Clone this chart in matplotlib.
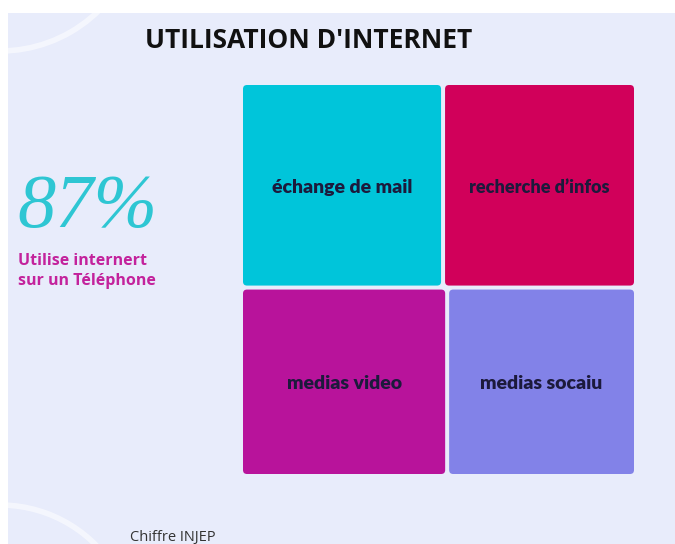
import matplotlib.pyplot as plt
from matplotlib.patches import FancyBboxPatch, Rectangle, Arc

# données du treemap
categories = ["échange de mail", "recherche d’infos", "medias video", "medias socaiu"]
values = [26.6, 25.4, 25.0, 22.9]
colors = ["#00c5da", "#d1005a", "#b8139b", "#8282e8"]
label_sizes = [14, 13, 14, 14]
rows = [[0, 1], [2, 3]]

pourcentage = "87%"
sous_titre = "Utilise internert\nsur un Téléphone"
titre = "UTILISATION D'INTERNET"
source = "Chiffre INJEP"

fig = plt.figure(figsize=(6.75, 5.44), dpi=100)
fig.patch.set_facecolor("white")
ax = fig.add_axes([0, 0, 1, 1])
ax.set_xlim(0, 675)
ax.set_ylim(544, 0)
ax.axis("off")

# fond
ax.add_patch(Rectangle((8, 13), 667, 531, facecolor="#e8ecfb", edgecolor="none", zorder=0))
ax.add_patch(Arc((0, -90), 282, 282, theta1=20, theta2=100, color="white", lw=4, alpha=0.55, zorder=1))
ax.add_patch(Arc((0, 640), 270, 270, theta1=-100, theta2=-40, color="white", lw=4, alpha=0.55, zorder=1))

# treemap (2 lignes)
x0, y0, W, H = 241, 83, 395, 393
gap = 4
total = sum(values)
y = y0
for row in rows:
    row_sum = sum(values[i] for i in row)
    h = H * row_sum / total
    x = x0
    for i in row:
        w = W * values[i] / row_sum
        ax.add_patch(FancyBboxPatch((x + gap / 2, y + gap / 2), w - gap, h - gap,
                                    boxstyle="round,pad=0,rounding_size=4",
                                    facecolor=colors[i], edgecolor="none", zorder=2))
        ax.text(x + w / 2, y + h / 2 + 2, categories[i], ha="center", va="center",
                fontsize=label_sizes[i], fontweight="heavy", family="Lato",
                color="#1c1a3c", zorder=3)
        x += w
    y += h

ax.text(309, 40, titre, ha="center", va="center", fontsize=19, fontweight="bold",
        family="Open Sans", color="#111111")
ax.text(17, 209, pourcentage, ha="left", va="center", fontsize=55, style="italic",
        family="Liberation Serif", color="#2ec6d3")
ax.text(18, 271, sous_titre, ha="left", va="center", fontsize=11.5, fontweight="bold",
        family="Open Sans", color="#c3229c", linespacing=1.4)
ax.text(130, 537, source, ha="left", va="center", fontsize=10.5, family="Open Sans",
        color="#333333")

fig.savefig("out.png", dpi=100)
